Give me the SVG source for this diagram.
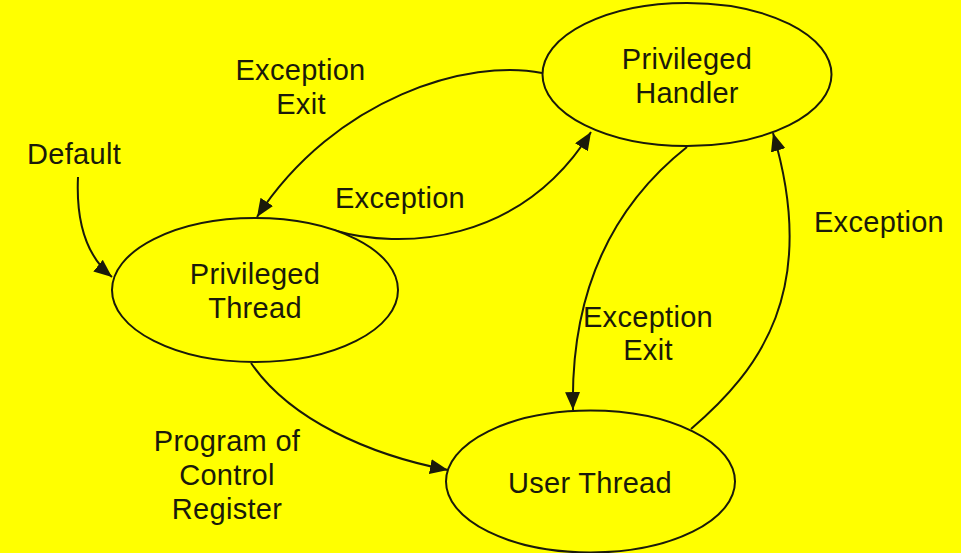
<svg xmlns="http://www.w3.org/2000/svg" width="961" height="553" viewBox="0 0 961 553">
<defs>
<marker id="arr" markerWidth="18" markerHeight="15" refX="18" refY="7.5" orient="auto" markerUnits="userSpaceOnUse">
<path d="M0,0 L18,7.5 L0,15 Z" fill="#1a1a0a"/>
</marker>
</defs>
<style>
.node{fill:#ffff00;stroke:#1a1a0a;stroke-width:2}
.edge{fill:none;stroke:#1a1a0a;stroke-width:2;marker-end:url(#arr)}
.lbl{font-family:"Liberation Sans",Arial,sans-serif;font-size:29px;letter-spacing:0.3px;fill:#1a1a0a;text-anchor:middle}
</style>
<rect x="0" y="0" width="961" height="553" fill="#ffff00"/>
<g id="connectors">
<path class="edge" d="M78,177 C76,220 85,255 112,277"/>
<path class="edge" d="M542,73 C470,58 335,97 257,217"/>
<path class="edge" d="M333,230 C400,250 520,245 591,132"/>
<path class="edge" d="M687,147 C620,200 570,280 573,410"/>
<path class="edge" d="M691,429 C760,370 820,290 773,133"/>
<path class="edge" d="M251,363 C290,420 370,455 448,470"/>
</g>
<g id="handler">
<ellipse class="node" cx="687" cy="74.5" rx="144.5" ry="71.5"/>
<text class="lbl" x="687" y="69">Privileged</text>
<text class="lbl" x="687" y="103">Handler</text>
</g>
<g id="privthread">
<ellipse class="node" cx="255" cy="290" rx="143" ry="72"/>
<text class="lbl" x="255" y="284">Privileged</text>
<text class="lbl" x="255" y="318">Thread</text>
</g>
<g id="userthread">
<ellipse class="node" cx="590.5" cy="481.5" rx="144.5" ry="71"/>
<text class="lbl" x="590" y="493">User Thread</text>
</g>
<g id="labels">
<text class="lbl" x="74" y="164">Default</text>
<text class="lbl" x="300.5" y="80">Exception</text>
<text class="lbl" x="301" y="114">Exit</text>
<text class="lbl" x="400" y="208">Exception</text>
<text class="lbl" x="879" y="232">Exception</text>
<text class="lbl" x="648" y="327">Exception</text>
<text class="lbl" x="648" y="360">Exit</text>
<text class="lbl" x="227" y="451">Program of</text>
<text class="lbl" x="227" y="485">Control</text>
<text class="lbl" x="227" y="519">Register</text>
</g>
</svg>
